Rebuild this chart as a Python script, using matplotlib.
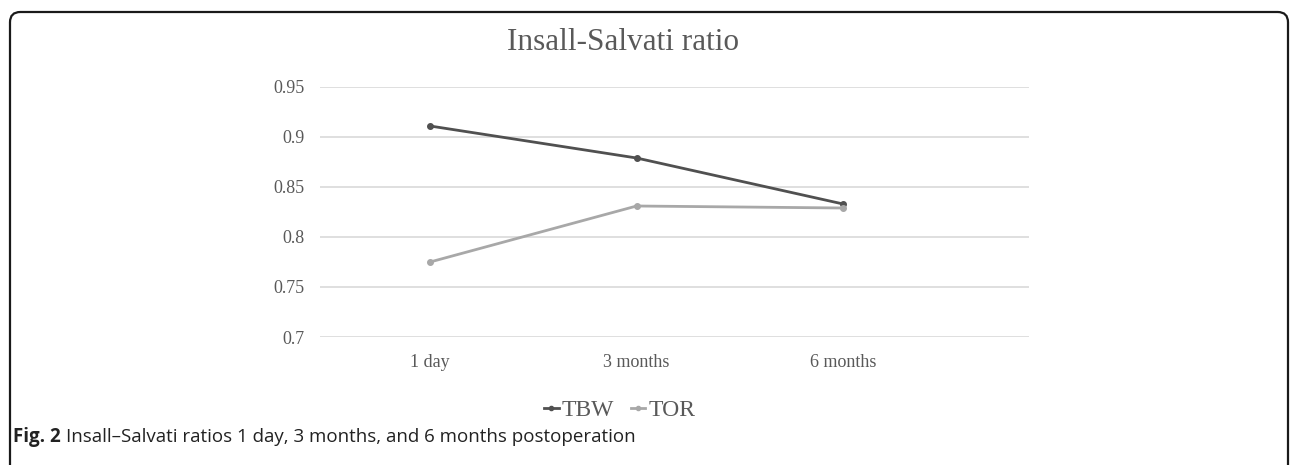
import matplotlib
matplotlib.use("Agg")
import matplotlib.pyplot as plt
from matplotlib.patches import FancyBboxPatch
from matplotlib.lines import Line2D

categories = ["1 day", "3 months", "6 months"]
tbw = [0.911, 0.879, 0.833]
tor = [0.775, 0.831, 0.829]
yticks = [0.7, 0.75, 0.8, 0.85, 0.9, 0.95]
ytick_labels = ["0.7", "0.75", "0.8", "0.85", "0.9", "0.95"]

W, H = 1290, 465
fig = plt.figure(figsize=(W / 100, H / 100), dpi=100)

# outer rounded border
border = FancyBboxPatch((10 / W, -0.2), (1288 - 10) / W, (H - 12) / H + 0.2,
                        boxstyle="round,pad=0,rounding_size=0.008",
                        transform=fig.transFigure, fill=False,
                        edgecolor="#1a1a1a", linewidth=1.6, mutation_aspect=W / H)
fig.patches.append(border)

ax = fig.add_axes([320 / W, 1 - 337 / H, (1029 - 320) / W, (337 - 87) / H])
x = list(range(len(categories)))
ax.plot(x, tbw, color="#505050", linewidth=2.0, marker="o", markersize=4, label="TBW", zorder=3)
ax.plot(x, tor, color="#a8a8a8", linewidth=2.0, marker="o", markersize=4, label="TOR", zorder=3)

ax.set_ylim(0.7, 0.95)
ax.set_xlim(-0.533, 2.90)
ax.set_yticks(yticks)
ax.set_yticklabels(ytick_labels)
ax.set_xticks(x)
ax.set_xticklabels(categories)
for s in ax.spines.values():
    s.set_visible(False)
ax.grid(axis="y", color="#d9d9d9", linewidth=1.2)
ax.set_axisbelow(True)
ax.tick_params(length=0, labelsize=13, labelcolor="#595959", pad=11)
ax.tick_params(axis="x", pad=12)
for t in ax.get_xticklabels() + ax.get_yticklabels():
    t.set_fontfamily("Liberation Serif")

fig.text(623 / W, 1 - 42 / H, "Insall-Salvati ratio", ha="center", va="center",
         fontsize=22.5, color="#595959", family="Liberation Serif")

handles = [Line2D([], [], color="#505050", linewidth=2.0, marker="o", markersize=3),
           Line2D([], [], color="#a8a8a8", linewidth=2.0, marker="o", markersize=3)]
fig.legend(handles, ["TBW", "TOR"], loc="center", bbox_to_anchor=(620 / W, 1 - 410 / H),
           ncol=2, frameon=False, handlelength=0.6, handletextpad=0.15, columnspacing=0.7,
           prop={"family": "Liberation Serif", "size": 17}, labelcolor="#595959")

t1 = fig.text(13 / W, 1 - 437 / H, "Fig. 2", ha="left", va="center", fontsize=13.5,
              fontweight="bold", family="Open Sans", color="#222222")
fig.canvas.draw()
bb = t1.get_window_extent()
fig.text((bb.x1 + 5) / W, 1 - 437 / H, "Insall\u2013Salvati ratios 1 day, 3 months, and 6 months postoperation",
         ha="left", va="center", fontsize=13.5, family="Open Sans", color="#222222")

fig.savefig("out.png", dpi=100)
